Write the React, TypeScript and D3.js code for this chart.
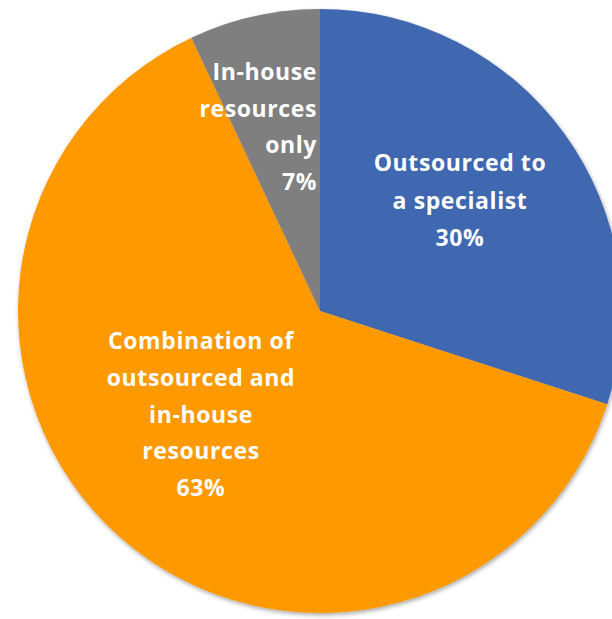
import React from "react";
import * as d3 from "d3";

const categories = ["Outsourced to a specialist", "Combination of outsourced and in-house resources", "In-house resources only"];
const values = [30, 63, 7];
const colors = ["#4168B1", "#FF9900", "#7F7F7F"];
const labelLines = [
  ["Outsourced to", "a specialist", "30%"],
  ["Combination of", "outsourced and", "in-house", "resources", "63%"],
  ["In-house", "resources", "only", "7%"],
];

export default function App() {
  const W = 612, H = 619;
  const cx = 320, cy = 311, r = 302;
  const pie = d3.pie<number>().sort(null).value((d) => d)(values);
  const arc = d3.arc<d3.PieArcDatum<number>>().innerRadius(0).outerRadius(r);
  const labelPos: { x: number; y: number; anchor: string }[] = [
    { x: 460, y: 163, anchor: "middle" },
    { x: 201, y: 341, anchor: "middle" },
    { x: 317, y: 72, anchor: "end" },
  ];
  const lh = [37.5, 36.8, 36.7];
  return (
    <svg width={W} height={H} style={{ position: "absolute", left: 0, top: 0 }}>
      <defs>
        <filter id="sh" x="-10%" y="-10%" width="120%" height="120%">
          <feDropShadow dx="1" dy="2" stdDeviation="2" floodColor="#000" floodOpacity="0.35" />
        </filter>
      </defs>
      <g transform={`translate(${cx},${cy})`}>
        <g filter="url(#sh)">
          {pie.map((p, i) => (
            <path key={categories[i]} d={arc(p) || ""} fill={colors[i]} />
          ))}
        </g>
      </g>
      {labelLines.map((lines, i) => (
        <text
          key={i}
          textAnchor={labelPos[i].anchor}
          fontFamily="'Open Sans', sans-serif"
          fontWeight="bold"
          fontSize={23}
          letterSpacing={0.6}
          fill="#ffffff"
        >
          {lines.map((t, j) => (
            <tspan key={j} x={labelPos[i].x} y={labelPos[i].y + j * lh[i]} dy="0.35em">
              {t}
            </tspan>
          ))}
        </text>
      ))}
    </svg>
  );
}
